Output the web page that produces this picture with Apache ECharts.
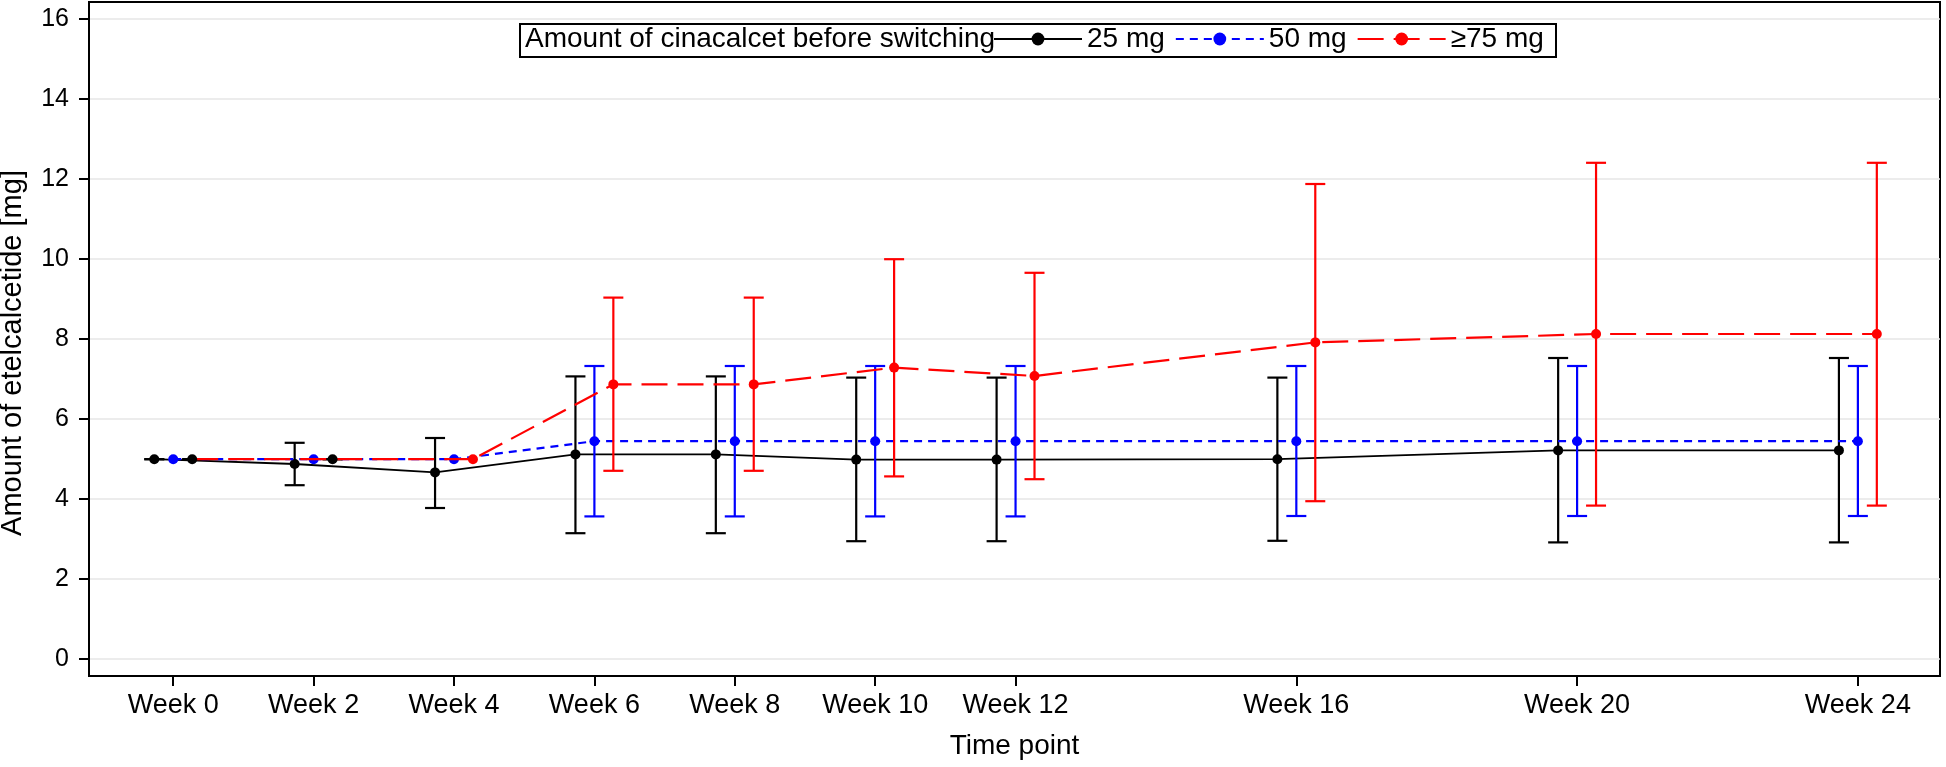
<!DOCTYPE html>
<html>
<head>
<meta charset="utf-8">
<script src="https://cdn.jsdelivr.net/npm/echarts@6/dist/echarts.min.js"></script>
<style>html,body{margin:0;padding:0;background:#fff}#c{width:1946px;height:767px}</style>
</head>
<body>
<div id="c"></div>
<script>
// ---- data ----
const weeks = [0, 2, 4, 6, 8, 10, 12, 16, 20, 24];
const weekTicks = [0, 2, 4, 6, 8, 10, 12, 16, 20, 24];
const yTicks = [0, 2, 4, 6, 8, 10, 12, 14, 16];
const seriesNames = ['25 mg', '50 mg', '\u226575 mg'];
const legendTitle = 'Amount of cinacalcet before switching';

const mean25 = [5.0, 4.88, 4.67, 5.12, 5.12, 4.99, 4.99, 5.0, 5.22, 5.22];
const low25  = [5.0, 4.35, 3.78, 3.15, 3.15, 2.95, 2.95, 2.96, 2.92, 2.92];
const high25 = [5.0, 5.41, 5.53, 7.07, 7.07, 7.04, 7.04, 7.04, 7.53, 7.53];

const mean50 = [5.0, 5.0, 5.0, 5.45, 5.45, 5.45, 5.45, 5.45, 5.45, 5.45];
const low50  = [null, null, null, 3.57, 3.57, 3.57, 3.57, 3.58, 3.58, 3.58];
const high50 = [null, null, null, 7.33, 7.33, 7.33, 7.33, 7.33, 7.33, 7.33];

const mean75 = [5.0, 5.0, 5.0, 6.87, 6.87, 7.29, 7.08, 7.92, 8.13, 8.13];
const low75  = [5.0, 5.0, null, 4.71, 4.71, 4.57, 4.50, 3.95, 3.84, 3.84];
const high75 = [5.0, 5.0, null, 9.04, 9.04, 10.0, 9.66, 11.88, 12.41, 12.41];

// ---- styles ----
const FONT = '"Liberation Sans", Arial, Helvetica, sans-serif';
const OFFSET = 0.27;             // horizontal dodge between groups (weeks)
const blackMarkerWeeksFor75 = [0, 2]; // in the original, these markers render black
const groups = [
  {name: seriesNames[0], mean: mean25, low: low25, high: high25, dx: -OFFSET, color: '#000000', line: {width: 1.8, type: 'solid'}},
  {name: seriesNames[1], mean: mean50, low: low50, high: high50, dx: 0, color: '#0000ff', line: {width: 2.2, type: [8, 6]}},
  {name: seriesNames[2], mean: mean75, low: low75, high: high75, dx: OFFSET, color: '#ff0000', line: {width: 2.2, type: [26, 10]}, blackAt: blackMarkerWeeksFor75}
];

const series = [];
groups.forEach((g, gi) => {
  const errData = [];
  weeks.forEach((w, i) => {
    if (g.low[i] != null && g.high[i] != null) {
      const c = (g.blackAt && g.blackAt.indexOf(w) >= 0) ? '#000000' : g.color;
      errData.push({value: [w + g.dx, g.low[i], g.high[i]], c: c});
    }
  });
  series.push({
    type: 'custom',
    name: g.name + ' error',
    z: 2 + gi * 2,
    silent: true,
    data: errData.map(d => d.value),
    renderItem: function (params, api) {
      const x = api.value(0), lo = api.value(1), hi = api.value(2);
      const pHi = api.coord([x, hi]);
      const pLo = api.coord([x, lo]);
      const col = errData[params.dataIndex].c;
      const st = {stroke: col, lineWidth: 2.2};
      const hw = 10;
      return {
        type: 'group',
        children: [
          {type: 'line', shape: {x1: pHi[0], y1: pHi[1], x2: pLo[0], y2: pLo[1]}, style: st},
          {type: 'line', shape: {x1: pHi[0] - hw, y1: pHi[1], x2: pHi[0] + hw, y2: pHi[1]}, style: st},
          {type: 'line', shape: {x1: pLo[0] - hw, y1: pLo[1], x2: pLo[0] + hw, y2: pLo[1]}, style: st}
        ]
      };
    }
  });
  series.push({
    type: 'line',
    name: g.name,
    z: 3 + gi * 2,
    symbol: 'circle',
    symbolSize: 10,
    showAllSymbol: true,
    color: g.color,
    itemStyle: {color: g.color},
    lineStyle: {color: g.color, width: g.line.width, type: g.line.type},
    data: weeks.map((w, i) => {
      const item = {value: [w + g.dx, g.mean[i]]};
      if (g.blackAt && g.blackAt.indexOf(w) >= 0) item.itemStyle = {color: '#000000'};
      return item;
    })
  });
});

const chart = echarts.init(document.getElementById('c'), null, {renderer: 'canvas'});
chart.setOption({
  animation: false,
  backgroundColor: '#ffffff',
  textStyle: {fontFamily: FONT},
  grid: {left: 89, right: 6, top: 2, bottom: 91, show: true, borderColor: '#000', borderWidth: 2, backgroundColor: 'transparent', containLabel: false, outerBoundsMode: 'none'},
  xAxis: {
    type: 'value',
    min: -1.2, max: 25.17,
    name: 'Time point',
    nameLocation: 'middle',
    nameGap: 56,
    nameTextStyle: {fontSize: 28, color: '#000', fontFamily: FONT},
    axisLine: {show: true, onZero: false, lineStyle: {color: '#000', width: 2}},
    axisTick: {show: true, length: 10, customValues: weekTicks, lineStyle: {color: '#000', width: 2}},
    axisLabel: {customValues: weekTicks, formatter: v => 'Week ' + v, fontSize: 27, color: '#000', margin: 16, fontFamily: FONT},
    splitLine: {show: false}
  },
  yAxis: {
    type: 'value',
    min: -0.42, max: 16.43,
    name: 'Amount of etelcalcetide [mg]',
    nameLocation: 'middle',
    nameGap: 62,
    nameTextStyle: {fontSize: 29, color: '#000', fontFamily: FONT, padding: [0, 28, 0, 0]},
    axisLine: {show: true, onZero: false, lineStyle: {color: '#000', width: 2}},
    axisTick: {show: true, length: 10, customValues: yTicks, lineStyle: {color: '#000', width: 2}},
    axisLabel: {customValues: yTicks, fontSize: 25, color: '#000', margin: 20, fontFamily: FONT},
    splitLine: {show: true, customValues: yTicks, lineStyle: {color: '#e6e6e6', width: 1.5}}
  },
  legend: {
    data: seriesNames,
    left: 993, top: 25,
    padding: 0,
    itemWidth: 88, itemHeight: 16, itemGap: 10,
    textStyle: {fontSize: 28, color: '#000', fontFamily: FONT},
    selectedMode: false
  },
  graphic: [
    {type: 'rect', left: 519, top: 23, z: 0, shape: {width: 1036, height: 33}, style: {fill: '#fff', stroke: '#000', lineWidth: 2}},
    {type: 'text', left: 525, top: 25, z: 1, style: {text: legendTitle, font: '28px ' + FONT, fill: '#000'}}
  ],
  series: series
});
</script>
</body>
</html>
